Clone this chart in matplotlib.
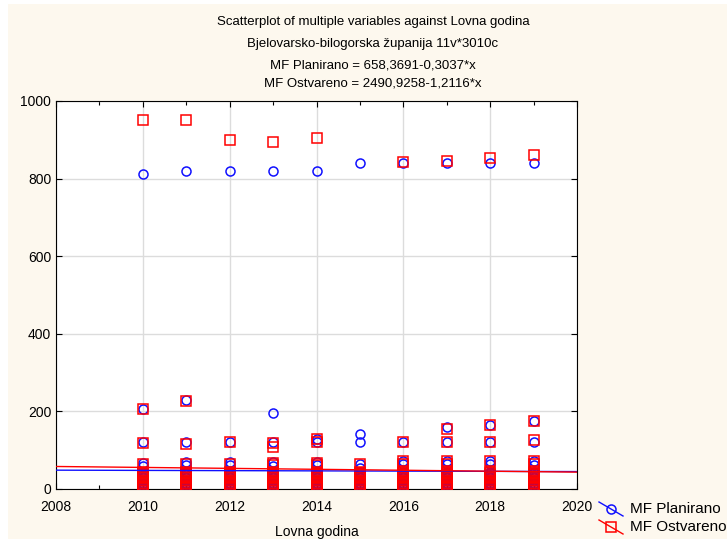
import matplotlib
matplotlib.use("Agg")
import matplotlib.pyplot as plt
import numpy as np
from matplotlib.lines import Line2D
from matplotlib.patches import Rectangle
from matplotlib.ticker import MultipleLocator

plt.rcParams['font.family'] = ['Liberation Sans', 'DejaVu Sans']

years = [2010, 2011, 2012, 2013, 2014, 2015, 2016, 2017, 2018, 2019]

# values per year (upper distinct values + dense low cluster)
low_cluster = [2, 5, 8, 12, 16, 20, 24, 28, 32, 36, 40, 44]

planirano_upper = [
    [812, 207, 120, 68, 60],
    [820, 230, 120, 70, 62],
    [820, 120, 70, 62],
    [820, 195, 120, 70, 60],
    [820, 128, 120, 70, 62],
    [840, 143, 120, 65, 55],
    [840, 120, 72, 65],
    [840, 160, 120, 72, 65],
    [840, 165, 120, 72, 65],
    [840, 175, 120, 72, 62],
]
ostvareno_upper = [
    [950, 207, 118, 65],
    [950, 228, 115, 65],
    [900, 120, 65],
    [895, 118, 108, 68, 62],
    [905, 130, 122, 68, 62],
    [65],
    [843, 120, 72, 65],
    [845, 155, 120, 73, 65],
    [852, 165, 120, 72],
    [862, 175, 127, 72, 65],
]

# regression coefficients from the title
plan_a, plan_b = 658.3691, -0.3037
ostv_a, ostv_b = 2490.9258, -1.2116

title_lines = [
    "Scatterplot of multiple variables against Lovna godina",
    "Bjelovarsko-bilogorska županija 11v*3010c",
    "MF Planirano = 658,3691-0,3037*x",
    "MF Ostvareno = 2490,9258-1,2116*x",
]
legend_labels = ["MF Planirano", "MF Ostvareno"]

W, H = 727, 539
fig = plt.figure(figsize=(W / 100, H / 100), dpi=100)
fig.patch.set_facecolor('white')
fig.add_artist(Rectangle((8 / W, 0), 1, 1 - 4 / H, transform=fig.transFigure,
                         facecolor='#fdf8ee', edgecolor='none', zorder=-10))

ax = fig.add_axes([56 / W, (H - 489) / H, 521 / W, 388 / H])
ax.set_facecolor('white')

blue = '#1010ff'
red = '#ff0000'

for i, yr in enumerate(years):
    pv = planirano_upper[i] + low_cluster
    ax.plot([yr] * len(pv), pv, linestyle='none', marker='o', markersize=6.5,
            markerfacecolor='none', markeredgecolor=blue, markeredgewidth=1.1, zorder=3)
for i, yr in enumerate(years):
    ov = ostvareno_upper[i] + low_cluster
    ax.plot([yr] * len(ov), ov, linestyle='none', marker='s', markersize=6.5,
            markerfacecolor='none', markeredgecolor=red, markeredgewidth=1.1, zorder=4)

xl = np.array([2008, 2020])
ax.plot(xl, plan_a + plan_b * xl, color=blue, lw=1.0, zorder=5)
ax.plot(xl, ostv_a + ostv_b * xl, color=red, lw=1.0, zorder=5)

ax.set_xlim(2008, 2020)
ax.set_ylim(0, 1000)
ax.xaxis.set_major_locator(MultipleLocator(2))
ax.xaxis.set_minor_locator(MultipleLocator(1))
ax.yaxis.set_major_locator(MultipleLocator(200))
ax.tick_params(which='both', direction='in', top=True, right=True, labelsize=10,
               length=4, width=0.8, colors='black')
ax.tick_params(which='minor', length=3)
ax.tick_params(axis='x', pad=8)
ax.grid(True, which='major', color='#dcdcdc', lw=1.0, zorder=0)
ax.set_axisbelow(True)
for s in ax.spines.values():
    s.set_color('black')
    s.set_linewidth(0.8)

ax.set_xlabel("Lovna godina", fontsize=10, labelpad=8)

cx = 373 / W
for j, (t, py) in enumerate(zip(title_lines, [22, 44, 65, 83])):
    fig.text(cx, 1 - py / H, t, ha='center', va='center', fontsize=9.5)

# legend drawn manually (diagonal line handles)
def px(x, y):
    return x / W, 1 - y / H

for lab, col, mk, yc in [(legend_labels[0], blue, 'o', 509), (legend_labels[1], red, 's', 527)]:
    x0, y0 = px(599, yc - 7)
    x1, y1 = px(623, yc + 7)
    fig.add_artist(Line2D([x0, x1], [y0, y1], transform=fig.transFigure, color=col, lw=1.0))
    mx, my = px(611, yc)
    fig.add_artist(Line2D([mx], [my], transform=fig.transFigure, linestyle='none', marker=mk,
                          markersize=6.5, markerfacecolor='none', markeredgecolor=col,
                          markeredgewidth=1.1))
    tx, ty = px(630, yc)
    fig.text(tx, ty, lab, ha='left', va='center', fontsize=11)

fig.savefig('out.png', dpi=100, facecolor=fig.get_facecolor())
